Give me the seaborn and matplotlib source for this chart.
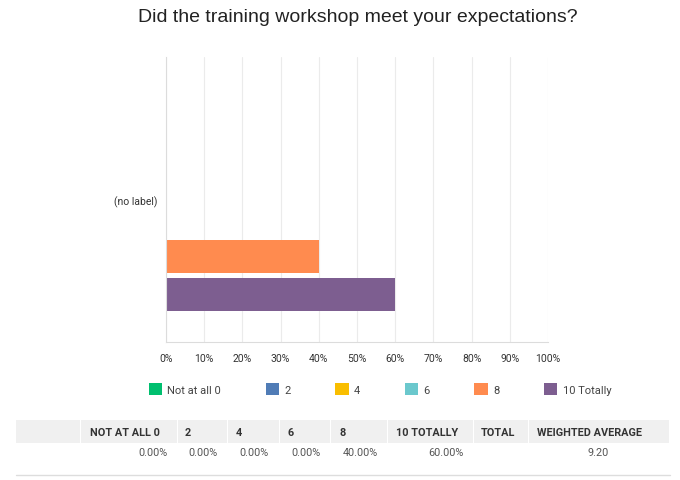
import matplotlib
matplotlib.use("Agg")
import matplotlib.pyplot as plt
from matplotlib.patches import Rectangle
import seaborn as sns
import pandas as pd

title = "Did the training workshop meet your expectations?"
question = ["(no label)"]
options = ["Not at all 0", "2", "4", "6", "8", "10 Totally"]
percents = [0.0, 0.0, 0.0, 0.0, 40.0, 60.0]
colors = ["#00BF6F", "#507CB6", "#F9BE00", "#6BC8CD", "#FF8B4F", "#7D5E90"]
xticks = [0, 10, 20, 30, 40, 50, 60, 70, 80, 90, 100]
table_headers = ["NOT AT ALL 0", "2", "4", "6", "8", "10 TOTALLY", "TOTAL", "WEIGHTED AVERAGE"]
table_values = ["0.00%", "0.00%", "0.00%", "0.00%", "40.00%", "60.00%", "", "9.20"]

sns.set_theme(style="white")
plt.rcParams["font.family"] = ["Roboto", "DejaVu Sans"]

df = pd.DataFrame({
    "question": question * len(options),
    "option": options,
    "pct": percents,
})

W, H = 680, 481
fig = plt.figure(figsize=(W / 100, H / 100), dpi=100)
ax = fig.add_axes([166 / W, 1 - 343 / H, 382 / W, 285 / H])

sns.barplot(data=df, y="question", x="pct", hue="option", hue_order=options,
            palette=colors, orient="h", ax=ax, gap=0.12, saturation=1,
            errorbar=None, legend=True, linewidth=0)

ax.set_xlim(0, 100)
ax.set_xticks(xticks)
ax.set_xticklabels([f"{v}%" for v in xticks])
ax.set_xlabel("")
ax.set_ylabel("")
ax.grid(axis="x", color="#ebebeb", linewidth=0.8)
ax.set_axisbelow(True)
for s in ["top", "right"]:
    ax.spines[s].set_visible(False)
for s in ["left", "bottom"]:
    ax.spines[s].set_color("#dcdcdc")
    ax.spines[s].set_linewidth(0.8)
ax.tick_params(axis="both", length=0, labelsize=7.5, colors="#333333")
ax.tick_params(axis="x", pad=8)
ax.tick_params(axis="y", pad=6)

sns.move_legend(ax, "center", bbox_to_anchor=(380 / W, 1 - 390 / H),
                bbox_transform=fig.transFigure, ncol=6, frameon=False, title=None,
                fontsize=8, handlelength=1.2, handleheight=1.2,
                columnspacing=4.0, handletextpad=0.5, labelcolor="#444444")

fig.text(358 / W, 1 - 18 / H, title, ha="center", va="center", fontsize=14,
         family=["Liberation Sans", "DejaVu Sans"], color="#222222")

# table
col_edges = [16, 81, 178, 228, 280, 331, 388, 474, 529, 670]
hy0, hy1 = 421, 444
for a, b in zip(col_edges[:-1], col_edges[1:]):
    fig.patches.append(Rectangle((a / W, 1 - hy1 / H), (b - a - 1.5) / W, (hy1 - hy0) / H,
                                 transform=fig.transFigure, facecolor="#f0f0f0",
                                 edgecolor="none"))
header_x = [90, 185, 236, 288, 339, 396, 481, 537]
for x, t in zip(header_x, table_headers):
    fig.text(x / W, 1 - 433 / H, t, ha="left", va="center", fontsize=7.8,
             fontweight="bold", color="#333333")
value_right = [168, 218, 269, 321, 378, 464, 520, 609]
for x, t in zip(value_right, table_values):
    fig.text(x / W, 1 - 453 / H, t, ha="right", va="center", fontsize=7.8,
             color="#555555")
fig.add_artist(plt.Line2D([16 / W, 670 / W], [1 - 476 / H, 1 - 476 / H],
                          transform=fig.transFigure, color="#dddddd", linewidth=1))

fig.savefig("out.png", dpi=100)
